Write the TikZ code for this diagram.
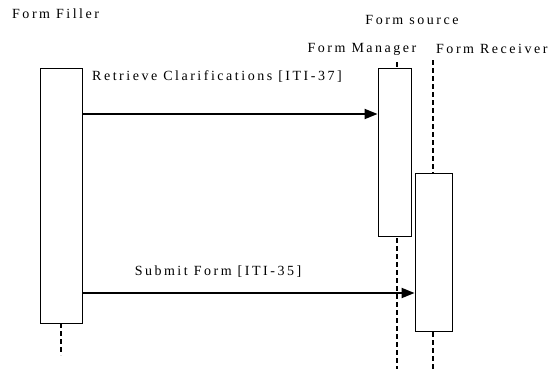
\documentclass[tikz,border=0pt]{standalone}
\usepackage{fontspec}
\setmainfont{Liberation Serif}[LetterSpace=18]
\usetikzlibrary{arrows.meta}
\begin{document}
\begin{tikzpicture}[x=1pt,y=-1pt,
  lbl/.style={inner sep=0pt,font=\fontsize{14}{16}\selectfont},
  actbox/.style={draw,line width=0.9pt,fill=white,inner sep=0pt},
  life/.style={line width=2pt,dash pattern=on 5pt off 3pt},
  msg/.style={line width=2pt,-{Triangle[length=13pt,width=10pt]}}]
\useasboundingbox (0,0) rectangle (553,369);
% lifelines
\coordinate (fl) at (61,323);
\coordinate (flend) at (61,355);
\coordinate (mtop) at (397,62);
\coordinate (mbot) at (397,369);
\coordinate (rtop) at (433,60);
\coordinate (rbot) at (433,369);
\draw[life] (fl) -- (flend);
\draw[life] (mtop) -- (mbot);
\draw[life] (rtop) -- (rbot);
% activation boxes
\node[actbox,minimum width=42pt,minimum height=255pt] (filler) at (61,195.5) {};
\node[actbox,minimum width=33pt,minimum height=168pt] (mgr) at (394.5,152) {};
\node[actbox,minimum width=37pt,minimum height=158pt] (rcv) at (433.5,252) {};
% titles
\node[lbl,anchor=west] (t1) at (12,14) {Form Filler};
\node[lbl] (t2) at (412,20) {Form source};
\node[lbl] (t3) at (362,49) {Form Manager};
\node[lbl,anchor=west] (t4) at (436,49) {Form Receiver};
% messages
\draw[msg] (filler.east |- 0,114) -- (mgr.west |- 0,114);
\node[lbl] (m1) at (217,77) {Retrieve Clarifications [ITI-37]};
\draw[msg] (filler.east |- 0,293) -- (rcv.west |- 0,293);
\node[lbl] (m2) at (218,272) {Submit Form [ITI-35]};
\end{tikzpicture}
\end{document}
